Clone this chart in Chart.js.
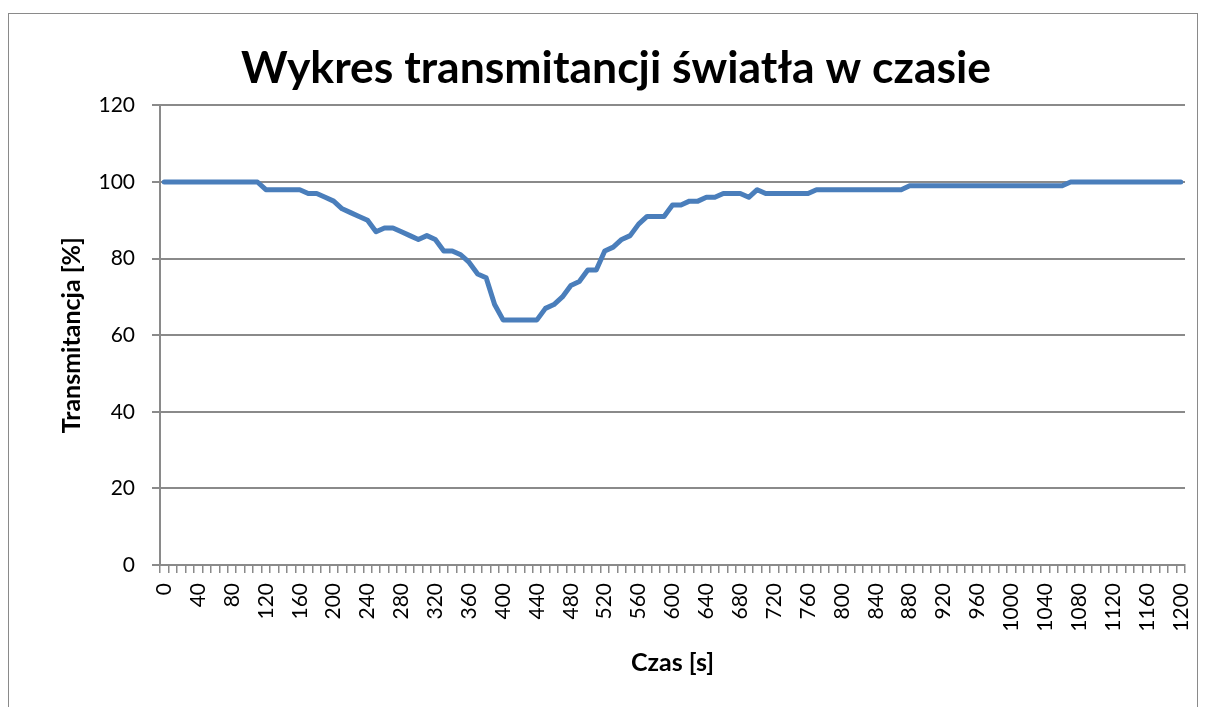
<!DOCTYPE html>
<html>
<head>
<meta charset="utf-8">
<script src="https://cdn.jsdelivr.net/npm/chart.js@4/dist/chart.umd.min.js"></script>
<style>
  html, body { margin: 0; padding: 0; background: #fff; overflow: hidden; width: 1209px; height: 707px; }
  #frame { position: absolute; left: 8px; top: 13px; width: 1190px; height: 720px; border: 1.5px solid #8a8a8a; box-sizing: border-box; }
  #wrap { position: absolute; left: 0; top: 0; width: 1232px; height: 707px; }
</style>
</head>
<body>
<div id="frame"></div>
<div id="wrap"><canvas id="transChart"></canvas></div>
<script>
// czas pomiaru [s]
const times = [
  0, 10, 20, 30, 40, 50, 60, 70, 80, 90, 100, 110, 120, 130, 140, 150, 160, 170, 180, 190,
  200, 210, 220, 230, 240, 250, 260, 270, 280, 290, 300, 310, 320, 330, 340, 350, 360, 370, 380, 390,
  400, 410, 420, 430, 440, 450, 460, 470, 480, 490, 500, 510, 520, 530, 540, 550, 560, 570, 580, 590,
  600, 610, 620, 630, 640, 650, 660, 670, 680, 690, 700, 710, 720, 730, 740, 750, 760, 770, 780, 790,
  800, 810, 820, 830, 840, 850, 860, 870, 880, 890, 900, 910, 920, 930, 940, 950, 960, 970, 980, 990,
  1000, 1010, 1020, 1030, 1040, 1050, 1060, 1070, 1080, 1090, 1100, 1110, 1120, 1130, 1140, 1150, 1160, 1170, 1180, 1190,
  1200
];

// transmitancja [%]
const transmittance = [
  100, 100, 100, 100, 100, 100, 100, 100, 100, 100, 100, 100, 98, 98, 98, 98, 98, 97, 97, 96,
  95, 93, 92, 91, 90, 87, 88, 88, 87, 86, 85, 86, 85, 82, 82, 81, 79, 76, 75, 68,
  64, 64, 64, 64, 64, 67, 68, 70, 73, 74, 77, 77, 82, 83, 85, 86, 89, 91, 91, 91,
  94, 94, 95, 95, 96, 96, 97, 97, 97, 96, 98, 97, 97, 97, 97, 97, 97, 98, 98, 98,
  98, 98, 98, 98, 98, 98, 98, 98, 99, 99, 99, 99, 99, 99, 99, 99, 99, 99, 99, 99,
  99, 99, 99, 99, 99, 99, 99, 100, 100, 100, 100, 100, 100, 100, 100, 100, 100, 100, 100, 100,
  100
];

const yTicks = [0, 20, 40, 60, 80, 100, 120];
const labelEvery = 4;

const gridColor = '#8a8a8a';
const lineColor = '#4a7ebb';

function draw() {
  Chart.defaults.font.family = 'Lato, "Open Sans", sans-serif';
  Chart.defaults.color = '#000';

  const ctx = document.getElementById('transChart').getContext('2d');
  new Chart(ctx, {
    type: 'line',
    data: {
      labels: times,
      datasets: [{
        label: 'Transmitancja',
        data: transmittance,
        borderColor: lineColor,
        borderWidth: 5,
        borderJoinStyle: 'round',
        borderCapStyle: 'round',
        pointRadius: 0,
        tension: 0,
        fill: false,
      }],
    },
    options: {
      responsive: true,
      maintainAspectRatio: false,
      animation: false,
      // left/right padding equal so the title centres at x=616 like the original
      layout: { padding: { top: 0, left: 47, right: 47, bottom: 0 } },
      plugins: {
        legend: { display: false },
        tooltip: { enabled: false },
        title: {
          display: true,
          text: 'Wykres transmitancji światła w czasie',
          color: '#000',
          font: { size: 44.5, weight: 'bold' },
          padding: { top: 42, bottom: 10 },
        },
      },
      scales: {
        x: {
          type: 'category',
          offset: true,
          grid: {
            offset: true,
            drawOnChartArea: false,
            drawTicks: true,
            tickLength: 8,
            color: gridColor,
            lineWidth: 1.5,
          },
          border: { display: true, color: gridColor, width: 2 },
          ticks: {
            autoSkip: false,
            minRotation: 90,
            maxRotation: 90,
            padding: 10,
            font: { size: 21 },
            callback: function (value, index) {
              return index % labelEvery === 0 ? this.getLabelForValue(value) : '';
            },
          },
          title: {
            display: true,
            text: 'Czas [s]',
            font: { size: 25, weight: 'bold' },
            padding: { top: 0, bottom: 29 },
          },
          afterFit: (scale) => { scale.height = 142; },
        },
        y: {
          min: 0,
          max: 120,
          afterBuildTicks: (scale) => { scale.ticks = yTicks.map(v => ({ value: v })); },
          grid: {
            color: gridColor,
            lineWidth: 2,
            drawTicks: true,
            tickLength: 8,
          },
          border: { display: true, color: gridColor, width: 2 },
          ticks: {
            padding: 17,
            font: { size: 21 },
          },
          title: {
            display: true,
            text: 'Transmitancja [%]',
            font: { size: 25, weight: 'bold' },
            padding: { top: 10, bottom: 0 },
          },
          afterFit: (scale) => { scale.width = 113; },
        },
      },
    },
  });
}

document.fonts.load('bold 46px Lato').then(draw, draw);
</script>
</body>
</html>
